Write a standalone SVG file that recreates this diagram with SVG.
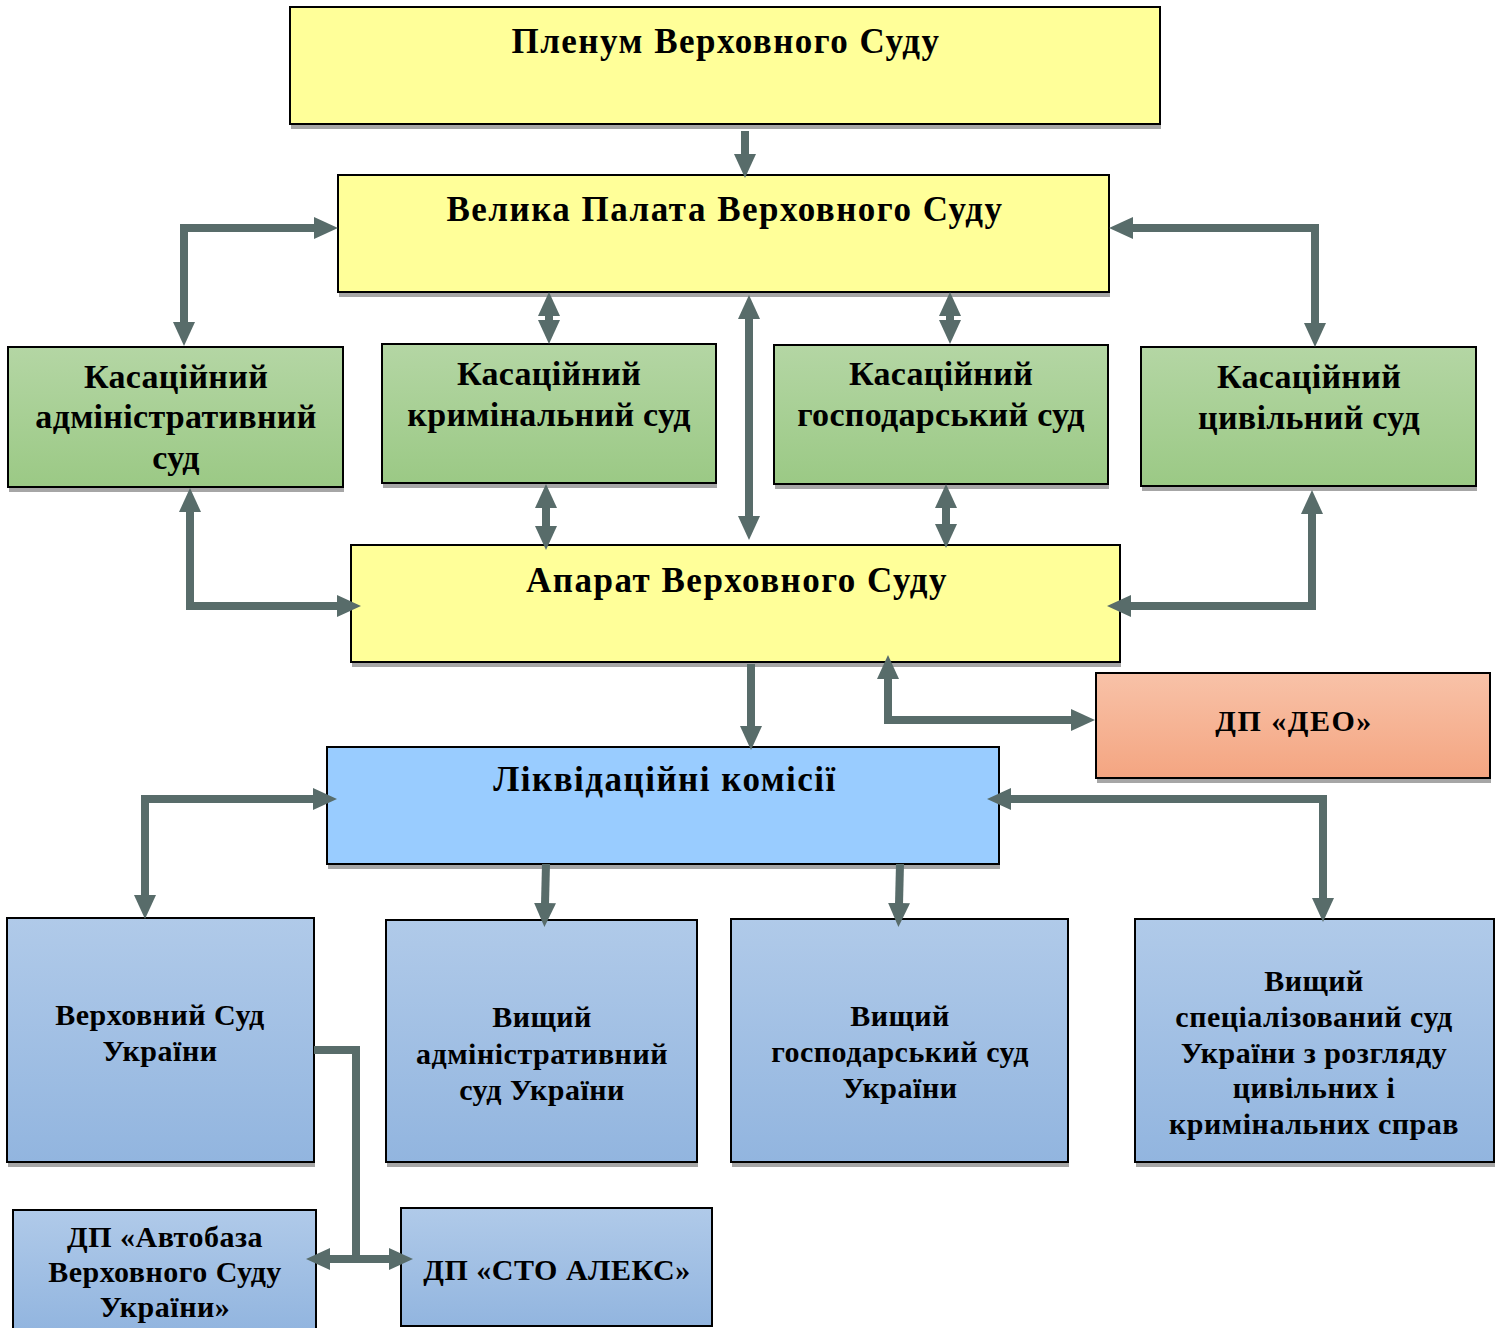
<svg xmlns="http://www.w3.org/2000/svg" width="1499" height="1328" viewBox="0 0 1499 1328">
<style>
.box{stroke:#000;stroke-width:2}
.sh{fill:#a6a6a6}
.y{fill:#ffff99}
.lq{fill:#99ccff}
.g{fill:url(#gGreen)}
.b{fill:url(#gBlue)}
.o{fill:url(#gOrange)}
text{font-family:"Liberation Serif","Times New Roman",serif;font-weight:bold;fill:#000;text-anchor:middle}
.t1{font-size:35px;letter-spacing:1.5px}
.t2{font-size:34px;letter-spacing:0.3px}
.t3{font-size:30px;letter-spacing:0.5px}
.t4{font-size:30px;letter-spacing:1.5px}
.c{fill:none;stroke:#586c6a;stroke-width:8;stroke-linejoin:miter}
.ca{marker-end:url(#ah)}
.cb{marker-start:url(#ah);marker-end:url(#ah)}
</style>
<defs>
<linearGradient id="gGreen" x1="0" y1="0" x2="0" y2="1"><stop offset="0" stop-color="#b4d6a4"/><stop offset="1" stop-color="#9bc985"/></linearGradient>
<linearGradient id="gBlue" x1="0" y1="0" x2="0" y2="1"><stop offset="0" stop-color="#b0cae9"/><stop offset="1" stop-color="#92b5df"/></linearGradient>
<linearGradient id="gOrange" x1="0" y1="0" x2="0" y2="1"><stop offset="0" stop-color="#f8c2a8"/><stop offset="1" stop-color="#f4a581"/></linearGradient>
<marker id="ah" viewBox="0 0 24 22" refX="1" refY="11" markerWidth="24" markerHeight="22" markerUnits="userSpaceOnUse" orient="auto-start-reverse"><path d="M0,0 L24,11 L0,22 Z" fill="#586c6a"/></marker>
</defs>

<g id="plenum">
<rect class="sh" x="291" y="12" width="870" height="117"/>
<rect class="box y" x="290" y="7" width="870" height="117"/>
<text class="t1" x="726" y="53">Пленум Верховного Суду</text>
</g>

<g id="velyka-palata">
<rect class="sh" x="339" y="180" width="771" height="117"/>
<rect class="box y" x="338" y="175" width="771" height="117"/>
<text class="t1" x="725" y="221">Велика Палата Верховного Суду</text>
</g>

<g id="kas-admin">
<rect class="sh" x="9" y="352" width="335" height="140"/>
<rect class="box g" x="8" y="347" width="335" height="140"/>
<text class="t2" x="176" y="388">Касаційний</text>
<text class="t2" x="176" y="428">адміністративний</text>
<text class="t2" x="176" y="469">суд</text>
</g>

<g id="kas-krym">
<rect class="sh" x="383" y="349" width="334" height="139"/>
<rect class="box g" x="382" y="344" width="334" height="139"/>
<text class="t2" x="549" y="385">Касаційний</text>
<text class="t2" x="549" y="426">кримінальний суд</text>
</g>

<g id="kas-gosp">
<rect class="sh" x="775" y="350" width="334" height="139"/>
<rect class="box g" x="774" y="345" width="334" height="139"/>
<text class="t2" x="941" y="385">Касаційний</text>
<text class="t2" x="941" y="426">господарський суд</text>
</g>

<g id="kas-cyv">
<rect class="sh" x="1142" y="352" width="335" height="139"/>
<rect class="box g" x="1141" y="347" width="335" height="139"/>
<text class="t2" x="1309" y="388">Касаційний</text>
<text class="t2" x="1309" y="429">цивільний суд</text>
</g>

<g id="aparat">
<rect class="sh" x="352" y="550" width="769" height="117"/>
<rect class="box y" x="351" y="545" width="769" height="117"/>
<text class="t1" x="737" y="592">Апарат Верховного Суду</text>
</g>

<g id="dp-deo">
<rect class="sh" x="1097" y="678" width="394" height="105"/>
<rect class="box o" x="1096" y="673" width="394" height="105"/>
<text class="t4" x="1294" y="731">ДП «ДЕО»</text>
</g>

<g id="likvid">
<rect class="sh" x="328" y="752" width="672" height="117"/>
<rect class="box lq" x="327" y="747" width="672" height="117"/>
<text class="t1" x="665" y="791">Ліквідаційні комісії</text>
</g>

<g id="vsu">
<rect class="sh" x="8" y="923" width="307" height="244"/>
<rect class="box b" x="7" y="918" width="307" height="244"/>
<text class="t3" x="160" y="1025">Верховний Суд</text>
<text class="t3" x="160" y="1061">України</text>
</g>

<g id="vas">
<rect class="sh" x="387" y="925" width="311" height="242"/>
<rect class="box b" x="386" y="920" width="311" height="242"/>
<text class="t3" x="542" y="1027">Вищий</text>
<text class="t3" x="542" y="1064">адміністративний</text>
<text class="t3" x="542" y="1100">суд України</text>
</g>

<g id="vgs">
<rect class="sh" x="732" y="924" width="337" height="243"/>
<rect class="box b" x="731" y="919" width="337" height="243"/>
<text class="t3" x="900" y="1026">Вищий</text>
<text class="t3" x="900" y="1062">господарський суд</text>
<text class="t3" x="900" y="1098">України</text>
</g>

<g id="vssu">
<rect class="sh" x="1136" y="924" width="359" height="243"/>
<rect class="box b" x="1135" y="919" width="359" height="243"/>
<text class="t3" x="1314" y="991">Вищий</text>
<text class="t3" x="1314" y="1027">спеціалізований суд</text>
<text class="t3" x="1314" y="1063">України з розгляду</text>
<text class="t3" x="1314" y="1098">цивільних і</text>
<text class="t3" x="1314" y="1134">кримінальних справ</text>
</g>

<g id="dp-avtobaza">
<rect class="box b" x="13" y="1210" width="303" height="120"/>
<text class="t3" x="165" y="1247">ДП «Автобаза</text>
<text class="t3" x="165" y="1282">Верховного Суду</text>
<text class="t3" x="165" y="1317">України»</text>
</g>

<g id="dp-sto">
<rect class="box b" x="401" y="1208" width="311" height="118"/>
<text class="t3" x="557" y="1280">ДП «СТО АЛЕКС»</text>
</g>

<g id="connectors">
<path class="c ca" d="M745,131 V155"/>
<path class="c cb" d="M184,323 V228 H315"/>
<path class="c cb" d="M1132,228 H1315 V324"/>
<path class="c cb" d="M549,315 V321"/>
<path class="c cb" d="M950,315 V321"/>
<path class="c cb" d="M749,318 V517"/>
<path class="c cb" d="M546,507 V527"/>
<path class="c cb" d="M946,507 V525"/>
<path class="c cb" d="M190,511 V606 H338"/>
<path class="c cb" d="M1312,513 V606 H1130"/>
<path class="c ca" d="M751,664 V727"/>
<path class="c cb" d="M888,678 V720 H1072"/>
<path class="c cb" d="M145,896 V799 H314"/>
<path class="c cb" d="M1010,799 H1323 V899"/>
<path class="c ca" d="M546,864 L545,904"/>
<path class="c ca" d="M900,864 L899,904"/>
<path class="c" d="M314,1050 H356 V1259"/>
<path class="c cb" d="M329,1259 H390"/>
</g>
</svg>
